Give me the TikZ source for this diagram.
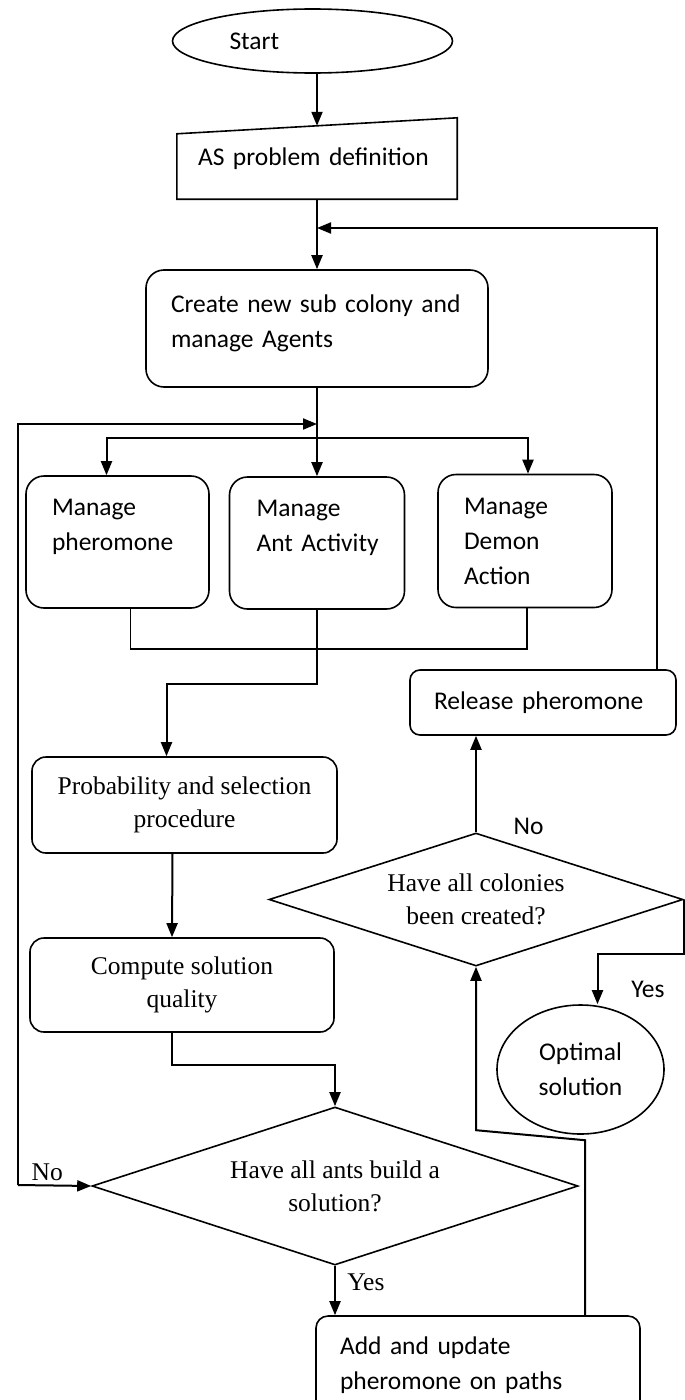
\documentclass[tikz,border=0pt]{standalone}
\usepackage{fontspec}
\setmainfont{Carlito}
\newfontfamily\timesfont{Liberation Serif}
\usepackage{tikz}
\usetikzlibrary{shapes.geometric,arrows.meta,positioning,calc}

\begin{document}
\begin{tikzpicture}[x=1pt, y=-1pt, font=\fontsize{25.5}{35}\selectfont]
\tikzstyle{process} = [rectangle, rounded corners=18pt, draw=black, line width=1.6pt, inner sep=0pt, align=left]
\tikzstyle{terminal} = [ellipse, draw=black, line width=1.6pt, inner sep=0pt]
\tikzstyle{decision} = [diamond, aspect=3, inner sep=0pt, draw=black, line width=1.6pt, align=center, font=\timesfont\fontsize{25.5}{33}\selectfont]
\tikzstyle{arrow} = [line width=2pt, -{Triangle[length=14pt,width=11pt]}]
\tikzstyle{conn} = [line width=1.4pt]
\tikzstyle{serif} = [font=\timesfont\fontsize{25.5}{33}\selectfont]

\useasboundingbox (0,0) rectangle (685,1400);

\node (start) [terminal, minimum width=280pt, minimum height=64pt, text width=166pt, align=left] at (312.5,41) {Start};
\node (asdef) [rectangle, minimum width=280pt, minimum height=81pt, text width=238pt, inner sep=0pt, align=left] at (317,158.5) {AS problem definition};
\draw [line width=1.6pt] ($(asdef.north west)+(0,16)$) -- (asdef.north east) -- (asdef.south east) -- (asdef.south west) -- cycle;
\coordinate (astop) at ($(asdef.north)+(0,8)$);

\node (create) [process, minimum width=342pt, minimum height=117pt, text width=292pt] at (317,328.5) {Create new sub colony and\\manage Agents\\[-20pt]\mbox{}};

\node (pher) [process, minimum width=183pt, minimum height=132pt, text width=131pt] at (117.5,542) {Manage\\pheromone\\\mbox{}};
\node (ant) [process, minimum width=175pt, minimum height=132pt, text width=121pt] at (317,543) {Manage\\\mbox{Ant Activity}\\\mbox{}};
\node (demon) [process, minimum width=174pt, minimum height=133pt, text width=122pt] at (525,541) {Manage\\Demon\\Action};

\node (release) [process, rounded corners=10pt, minimum width=266pt, minimum height=65pt, text width=218pt] at (543,702.5) {Release pheromone};

\node (prob) [process, rounded corners=14pt, minimum width=305pt, minimum height=96pt, align=center, serif] at (184.5,805) {Probability and selection\\procedure};
\node (compute) [process, rounded corners=14pt, minimum width=304pt, minimum height=94pt, align=center, serif] at (182,985) {Compute solution\\quality};

\node (coldone) [decision, minimum width=414pt, minimum height=133pt] at (476,899.5) {Have all colonies\\been created?};
\node (optimal) [terminal, minimum width=167pt, minimum height=129pt, align=center] at (580.5,1069.5) {Optimal\\solution};

\node (antsdone) [decision, minimum width=486pt, minimum height=158pt] at (335,1186) {Have all ants build a\\solution?};
\node (update) [process, rounded corners=12pt, minimum width=324pt, minimum height=99pt, text width=276pt] at (478,1365.5) {Add and update\\pheromone on paths};

\coordinate (join1) at (317,228);
\coordinate (join2) at (317,424);
\coordinate (split) at (317,438);
\coordinate (loopend) at (18,1185);

% main column
\draw [arrow] (start.south -| astop) -- (astop);
\draw [arrow] (asdef.south) -- (create.north);
\draw [arrow] ([xshift=-20pt]release.north east) |- (join1);
\draw [arrow] (create.south) -- (ant.north);
\draw [arrow] (loopend) |- (join2);
\draw [arrow] (loopend) -- node[above, pos=0.4, serif] {No} (antsdone.west);

% the three managers
\draw [arrow] (split) -| ([xshift=-11pt]pher.north);
\draw [arrow] (split) -| ([xshift=3pt]demon.north);
\draw [conn] ([xshift=13pt]pher.south) -- ++(0,40) -| ([xshift=2pt]demon.south);
\draw [arrow] (ant.south) -- ++(0,74) -| ([xshift=-18pt]prob.north);

\draw [arrow] ([xshift=-12pt]prob.south) -- ([xshift=-10pt]compute.north);
\draw [arrow] ([xshift=-10pt]compute.south) -- ++(0,32) -| (antsdone.north);
\draw [arrow] (antsdone.south) -- node[right, pos=0.33, xshift=8pt, serif] {Yes} (antsdone.south |- update.north);

% colonies loop
\draw [arrow] ([xshift=107pt]update.north) -- ++(0,-175) -- ++(-109,-10) -- (coldone.south);
\draw [arrow] (coldone.north) -- (coldone.north |- release.south);
\node (nocol) [right=34pt of coldone.north, yshift=6pt] {No};
\draw [arrow] (coldone.east) -- ++(0,54) -| ([xshift=17pt]optimal.north);
\node (yescol) at (648,989) {Yes};
\end{tikzpicture}
\end{document}
